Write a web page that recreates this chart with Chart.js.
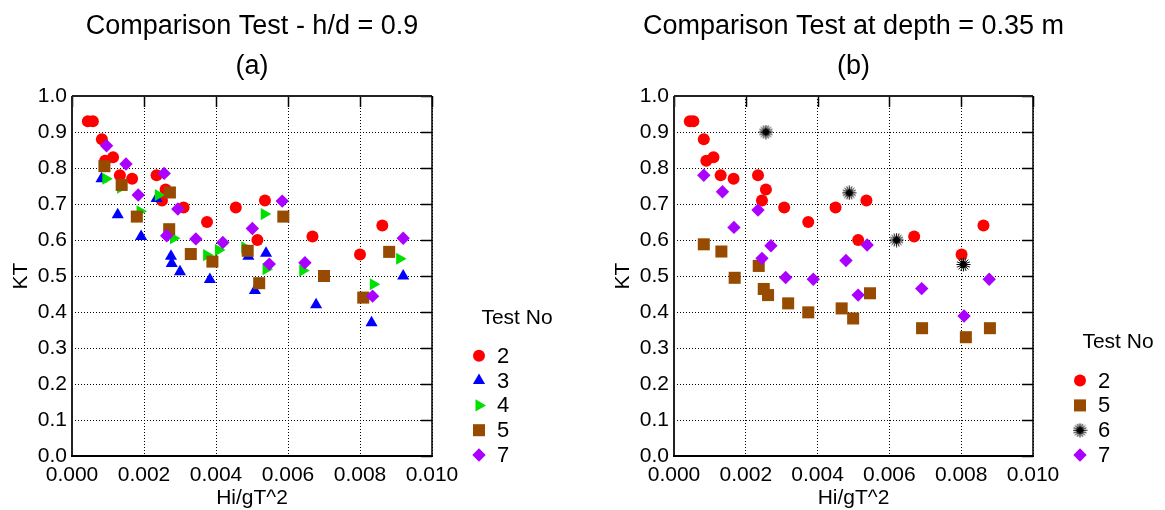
<!DOCTYPE html>
<html>
<head>
<meta charset="utf-8">
<script src="https://cdn.jsdelivr.net/npm/chart.js@4/dist/chart.umd.min.js"></script>
<style>
    html, body { margin: 0; padding: 0; background: #fff; }
    #wrap { position: relative; width: 1165px; height: 510px; }
    .box { position: absolute; top: 0; height: 510px; }
</style>
</head>
<body>
<div id="wrap">
    <div class="box" style="left:0;width:582px"><canvas id="chart-a" width="582" height="510"></canvas></div>
    <div class="box" style="left:582px;width:583px"><canvas id="chart-b" width="583" height="510"></canvas></div>
</div>
<script>
'use strict';

// (a) Comparison Test - h/d = 0.9
const aTest2X = [0.00044, 0.00058, 0.00083, 0.00092, 0.00114, 0.00133, 0.00167, 0.00235, 0.0025, 0.0026, 0.0031, 0.00375, 0.00455, 0.00515, 0.00536, 0.00668, 0.0080, 0.00862];
const aTest2Y = [0.93, 0.93, 0.88, 0.82, 0.83, 0.78, 0.77, 0.78, 0.71, 0.74, 0.69, 0.65, 0.69, 0.60, 0.71, 0.61, 0.56, 0.64];
const aTest3X = [0.00082, 0.00127, 0.00235, 0.00192, 0.00275, 0.00277, 0.0030, 0.00383, 0.0049, 0.00508, 0.00539, 0.00678, 0.00832, 0.0092];
const aTest3Y = [0.77, 0.67, 0.715, 0.61, 0.555, 0.535, 0.512, 0.49, 0.555, 0.46, 0.563, 0.42, 0.37, 0.50];
const aTest4X = [0.00094, 0.00135, 0.00189, 0.0024, 0.00282, 0.00374, 0.00407, 0.0048, 0.00534, 0.00539, 0.00641, 0.00837, 0.0091];
const aTest4Y = [0.77, 0.745, 0.68, 0.725, 0.605, 0.558, 0.572, 0.58, 0.672, 0.519, 0.515, 0.477, 0.548];
const aTest5X = [0.0009, 0.00138, 0.0018, 0.0027, 0.00272, 0.0033, 0.0039, 0.00488, 0.0052, 0.00587, 0.007, 0.00809, 0.00881];
const aTest5Y = [0.805, 0.753, 0.665, 0.63, 0.732, 0.561, 0.54, 0.57, 0.48, 0.665, 0.50, 0.44, 0.567];
const aTest7X = [0.00096, 0.0015, 0.00184, 0.00256, 0.00263, 0.00294, 0.00344, 0.00419, 0.00501, 0.00548, 0.00584, 0.00647, 0.00835, 0.0092];
const aTest7Y = [0.862, 0.811, 0.725, 0.785, 0.612, 0.686, 0.603, 0.593, 0.632, 0.533, 0.708, 0.537, 0.444, 0.605];

// (b) Comparison Test at depth = 0.35 m
const bTest2X = [0.00044, 0.00054, 0.00083, 0.0009, 0.0011, 0.0013, 0.00166, 0.00234, 0.00245, 0.00256, 0.00307, 0.00374, 0.0045, 0.00513, 0.00536, 0.00669, 0.00801, 0.00862];
const bTest2Y = [0.93, 0.93, 0.88, 0.82, 0.83, 0.78, 0.77, 0.78, 0.71, 0.74, 0.69, 0.65, 0.69, 0.60, 0.71, 0.61, 0.56, 0.64];
const bTest5X = [0.00083, 0.00132, 0.00169, 0.00236, 0.0025, 0.00262, 0.00318, 0.00374, 0.00467, 0.00499, 0.00546, 0.00691, 0.00813, 0.0088];
const bTest5Y = [0.588, 0.568, 0.495, 0.528, 0.464, 0.447, 0.424, 0.399, 0.41, 0.382, 0.452, 0.355, 0.33, 0.355];
const bTest6X = [0.00256, 0.00488, 0.0062, 0.00806];
const bTest6Y = [0.90, 0.731, 0.60, 0.532];
const bTest7X = [0.00083, 0.00135, 0.00167, 0.00234, 0.0027, 0.00245, 0.00311, 0.00388, 0.00479, 0.00538, 0.00513, 0.0069, 0.00808, 0.00878];
const bTest7Y = [0.78, 0.734, 0.635, 0.683, 0.584, 0.549, 0.496, 0.491, 0.543, 0.586, 0.447, 0.465, 0.389, 0.491];

const FONT = '"Liberation Sans", Arial, sans-serif';
Chart.defaults.font.family = FONT;
Chart.defaults.color = '#000';

// black starburst marker for test 6
function makeStar() {
    const c = document.createElement('canvas');
    c.width = 15; c.height = 15;
    const g = c.getContext('2d');
    g.strokeStyle = '#000';
    g.fillStyle = '#000';
    g.lineWidth = 1;
    for (let k = 0; k < 16; k++) {
        const ang = k * Math.PI / 8;
        g.beginPath();
        g.moveTo(7.5, 7.5);
        g.lineTo(7.5 + 7 * Math.cos(ang), 7.5 + 7 * Math.sin(ang));
        g.stroke();
    }
    g.beginPath();
    g.arc(7.5, 7.5, 3.5, 0, Math.PI * 2);
    g.fill();
    return c;
}

const STYLES = {
    '2': { color: '#ff0000', pointStyle: 'circle', radius: 6, rotation: 0 },
    '3': { color: '#0000ff', pointStyle: 'triangle', radius: 7, rotation: 0 },
    '4': { color: '#00e000', pointStyle: 'triangle', radius: 7, rotation: 90 },
    '5': { color: '#964b00', pointStyle: 'rect', radius: 8.5, rotation: 0 },
    '6': { color: '#000000', pointStyle: makeStar(), radius: 7, rotation: 0 },
    '7': { color: '#aa00ff', pointStyle: 'rectRot', radius: 6.7, rotation: 0 }
};

function toPoints(xs, ys) {
    return xs.map((x, i) => ({ x: x, y: ys[i] }));
}

function makeDataset(name, xs, ys, order) {
    const s = STYLES[name];
    return {
        label: name,
        data: toPoints(xs, ys),
        backgroundColor: s.color,
        borderColor: s.color,
        borderWidth: 0,
        pointStyle: s.pointStyle,
        pointRadius: s.radius,
        pointRotation: s.rotation,
        order: order
    };
}

// titles, box frame with inner ticks, and the "Test No" legend
const framePlugin = {
    id: 'frame',
    afterDraw(chart, args, opts) {
        const ctx = chart.ctx;
        const ca = chart.chartArea;
        const sx = chart.scales.x;
        const sy = chart.scales.y;
        ctx.save();

        ctx.strokeStyle = '#000';
        ctx.lineWidth = 1.5;
        ctx.beginPath();
        sx.ticks.forEach(t => {
            const px = Math.round(sx.getPixelForValue(t.value)) + 0.5;
            ctx.moveTo(px, ca.top);
            ctx.lineTo(px, ca.top + 11);
        });
        sy.ticks.forEach(t => {
            const py = Math.round(sy.getPixelForValue(t.value)) + 0.5;
            ctx.moveTo(ca.right - 11, py);
            ctx.lineTo(ca.right, py);
        });
        ctx.stroke();

        ctx.lineWidth = 2;
        ctx.strokeStyle = '#222';
        ctx.beginPath();
        ctx.moveTo(ca.left, ca.top);
        ctx.lineTo(ca.right, ca.top);
        ctx.moveTo(ca.left, ca.top);
        ctx.lineTo(ca.left, ca.bottom);
        ctx.stroke();
        ctx.strokeStyle = '#000';
        ctx.beginPath();
        ctx.moveTo(ca.left - 1, ca.bottom);
        ctx.lineTo(ca.right + 1, ca.bottom);
        ctx.stroke();
        ctx.lineWidth = 1.5;
        ctx.beginPath();
        ctx.moveTo(ca.right, ca.top);
        ctx.lineTo(ca.right, ca.bottom);
        ctx.stroke();

        // titles
        const cx = (ca.left + ca.right) / 2;
        ctx.fillStyle = '#000';
        ctx.textAlign = 'center';
        ctx.textBaseline = 'middle';
        ctx.font = '27px ' + FONT;
        ctx.fillText(opts.title, cx, 27);
        ctx.fillText(opts.subtitle, cx, 67);

        // legend
        const items = chart.data.datasets;
        const step = 24.8;
        const lastY = ca.bottom - 1;
        const firstY = lastY - step * (items.length - 1);
        ctx.font = '21px ' + FONT;
        ctx.fillText('Test No', ca.right + 85, firstY - 38);
        ctx.font = '22px ' + FONT;
        ctx.textAlign = 'left';
        items.forEach((ds, i) => {
            const y = firstY + i * step;
            const s = STYLES[ds.label];
            ctx.fillStyle = s.color;
            ctx.strokeStyle = s.color;
            Chart.helpers.drawPoint(ctx, {
                pointStyle: s.pointStyle,
                radius: s.radius,
                rotation: s.rotation,
                borderWidth: 0
            }, ca.right + 47, y);
            ctx.fillStyle = '#000';
            ctx.fillText(ds.label, ca.right + 65, y + 1);
        });
        ctx.restore();
    }
};

function buildOptions(padLeft, padRight, title, subtitle) {
    return {
        responsive: false,
        animation: false,
        layout: { padding: { left: padLeft, right: padRight, top: 96, bottom: 0 } },
        plugins: {
            legend: { display: false },
            tooltip: { enabled: false },
            frame: { title: title, subtitle: subtitle }
        },
        scales: {
            x: {
                type: 'linear',
                min: 0,
                max: 0.010,
                ticks: {
                    stepSize: 0.002,
                    padding: 7,
                    font: { size: 21 },
                    color: '#000',
                    callback: v => v.toFixed(3)
                },
                grid: { color: '#000', lineWidth: 1, drawTicks: false },
                border: { display: false, dash: [1, 2] },
                title: {
                    display: true,
                    text: 'Hi/gT^2',
                    font: { size: 21, lineHeight: 1 },
                    padding: { top: 0, bottom: 1 }
                },
                afterFit: function(scale) {
                    scale.height = 54;
                    scale.paddingLeft = 0;
                    scale.paddingRight = 0;
                }
            },
            y: {
                type: 'linear',
                min: 0,
                max: 1.0,
                ticks: {
                    stepSize: 0.1,
                    padding: 5,
                    font: { size: 21 },
                    color: '#000',
                    callback: v => v.toFixed(1)
                },
                grid: { color: '#000', lineWidth: 1, drawTicks: false },
                border: { display: false, dash: [1, 2] },
                title: {
                    display: true,
                    text: 'KT',
                    font: { size: 21, lineHeight: 1.2 },
                    padding: { top: 9, bottom: 0 }
                },
                afterFit: function(scale) {
                    scale.width = 72;
                    scale.paddingTop = 0;
                    scale.paddingBottom = 0;
                }
            }
        }
    };
}

function initCharts() {
    new Chart(document.getElementById('chart-a'), {
        type: 'scatter',
        data: {
            datasets: [
                makeDataset('2', aTest2X, aTest2Y, 5),
                makeDataset('3', aTest3X, aTest3Y, 4),
                makeDataset('4', aTest4X, aTest4Y, 3),
                makeDataset('5', aTest5X, aTest5Y, 2),
                makeDataset('7', aTest7X, aTest7Y, 1)
            ]
        },
        options: buildOptions(0, 150, 'Comparison Test - h/d = 0.9', '(a)'),
        plugins: [framePlugin]
    });

    new Chart(document.getElementById('chart-b'), {
        type: 'scatter',
        data: {
            datasets: [
                makeDataset('2', bTest2X, bTest2Y, 4),
                makeDataset('5', bTest5X, bTest5Y, 3),
                makeDataset('6', bTest6X, bTest6Y, 2),
                makeDataset('7', bTest7X, bTest7Y, 1)
            ]
        },
        options: buildOptions(20, 132, 'Comparison Test at depth = 0.35 m', '(b)'),
        plugins: [framePlugin]
    });
}

initCharts();
</script>
</body>
</html>
